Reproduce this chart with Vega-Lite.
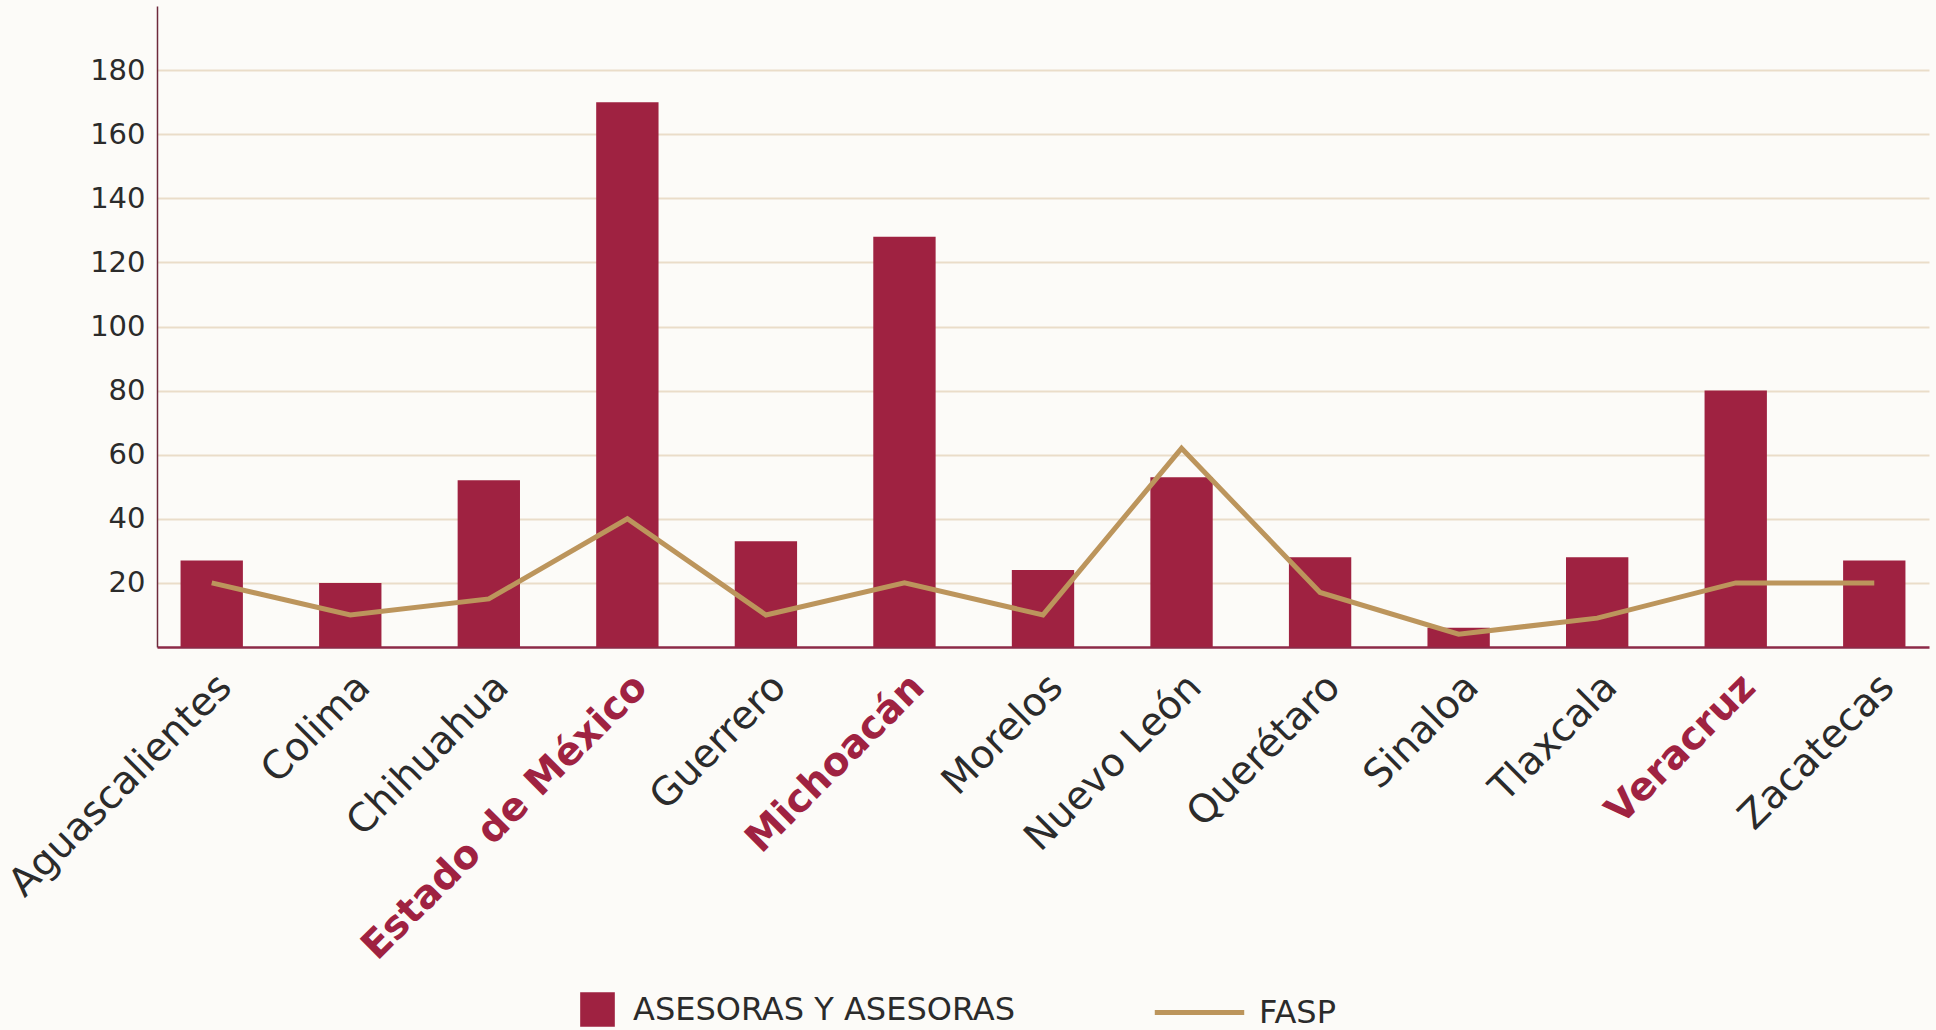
{
  "$schema": "https://vega.github.io/schema/vega-lite/v6.json",
  "width": 1772,
  "height": 641,
  "autosize": {"type": "none"},
  "padding": {"left": 157, "top": 6, "right": 7, "bottom": 383},
  "background": "#fcfbf8",
  "config": {"view": {"stroke": null}, "font": "DejaVu Sans", "legend": {"labelLimit": 0}},
  "data": {
    "values": [
      {"estado": "Aguascalientes", "asesoras": 27, "fasp": 20},
      {"estado": "Colima", "asesoras": 20, "fasp": 10},
      {"estado": "Chihuahua", "asesoras": 52, "fasp": 15},
      {"estado": "Estado de México", "asesoras": 170, "fasp": 40},
      {"estado": "Guerrero", "asesoras": 33, "fasp": 10},
      {"estado": "Michoacán", "asesoras": 128, "fasp": 20},
      {"estado": "Morelos", "asesoras": 24, "fasp": 10},
      {"estado": "Nuevo León", "asesoras": 53, "fasp": 62},
      {"estado": "Querétaro", "asesoras": 28, "fasp": 17},
      {"estado": "Sinaloa", "asesoras": 6, "fasp": 4},
      {"estado": "Tlaxcala", "asesoras": 28, "fasp": 9},
      {"estado": "Veracruz", "asesoras": 80, "fasp": 20},
      {"estado": "Zacatecas", "asesoras": 27, "fasp": 20}
    ]
  },
  "encoding": {
    "x": {
      "field": "estado",
      "type": "nominal",
      "sort": null,
      "scale": {"paddingInner": 0.55, "paddingOuter": 0.17},
      "axis": {
        "title": null,
        "labelAngle": -45,
        "labelFontSize": 39,
        "labelLimit": 0,
        "labelPadding": 20,
        "labelColor": {"expr": "indexof(['Estado de México','Michoacán','Veracruz'], datum.value) >= 0 ? '#9f2241' : '#2b2b2b'"},
        "labelFontWeight": {"expr": "indexof(['Estado de México','Michoacán','Veracruz'], datum.value) >= 0 ? 'bold' : 'normal'"},
        "ticks": false,
        "grid": false,
        "domainColor": "#8c2a48",
        "domainWidth": 2.5
      }
    }
  },
  "layer": [
    {
      "mark": {"type": "bar", "fill": "#9f2241"},
      "encoding": {
        "y": {
          "field": "asesoras",
          "type": "quantitative",
          "scale": {"domain": [0, 200], "nice": false},
          "axis": {
            "title": null,
            "values": [20, 40, 60, 80, 100, 120, 140, 160, 180],
            "grid": true,
            "gridColor": "#eaddc9",
            "gridWidth": 2,
            "ticks": false,
            "labelFontSize": 29,
            "labelColor": "#2b2b2b",
            "labelPadding": 12,
            "domainColor": "#6e2a3c",
            "domainWidth": 1.5
          }
        },
        "fill": {
          "datum": "ASESORAS Y ASESORAS",
          "scale": {"range": ["#9f2241"]},
          "legend": {
            "orient": "none",
            "legendX": 423,
            "legendY": 986,
            "title": null,
            "padding": 0,
            "symbolType": "square",
            "symbolSize": 1200,
            "symbolStrokeWidth": 0,
            "labelFontSize": 32,
            "labelOffset": 18,
            "labelLimit": 0,
            "labelColor": "#2b2b2b"
          }
        }
      }
    },
    {
      "mark": {"type": "line", "strokeWidth": 5},
      "encoding": {
        "y": {
          "field": "fasp",
          "type": "quantitative",
          "scale": {"domain": [0, 200], "nice": false},
          "axis": {
            "title": null,
            "values": [20, 40, 60, 80, 100, 120, 140, 160, 180],
            "grid": true,
            "gridColor": "#eaddc9",
            "gridWidth": 2,
            "ticks": false,
            "labelFontSize": 29,
            "labelColor": "#2b2b2b",
            "labelPadding": 12,
            "domainColor": "#6e2a3c",
            "domainWidth": 1.5
          }
        },
        "stroke": {
          "datum": "FASP",
          "scale": {"range": ["#bc955c"]},
          "legend": {
            "orient": "none",
            "legendX": 995,
            "legendY": 959,
            "title": null,
            "padding": 0,
            "symbolType": "stroke",
            "symbolSize": 8000,
            "symbolStrokeWidth": 5,
            "labelFontSize": 32,
            "labelOffset": 12,
            "labelLimit": 0,
            "labelColor": "#2b2b2b"
          }
        }
      }
    }
  ]
}
